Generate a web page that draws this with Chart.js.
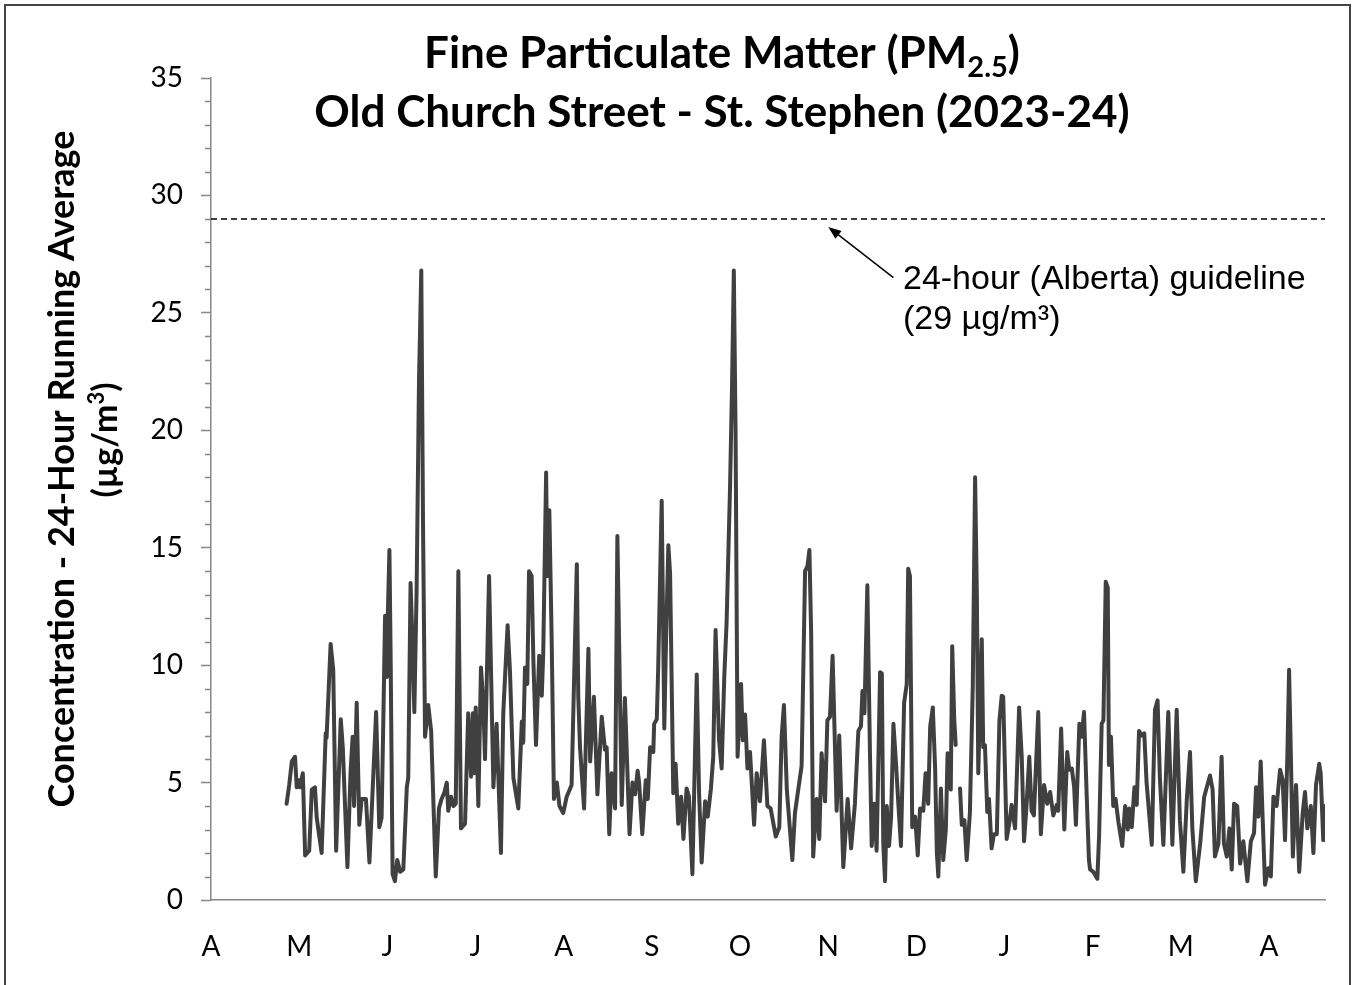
<!DOCTYPE html>
<html>
<head>
<meta charset="utf-8">
<script src="https://cdn.jsdelivr.net/npm/chart.js@4.4.1/dist/chart.umd.min.js"></script>
<style>
  html, body { margin: 0; padding: 0; background: #fff; }
  #wrap { position: relative; width: 1355px; height: 985px; overflow: hidden; }
  #frame { position: absolute; left: 4px; top: 4px; width: 1347px; height: 1000px; border: 2px solid #444; box-sizing: border-box; pointer-events: none; }
  canvas { position: absolute; left: 0; top: 0; }
</style>
</head>
<body>
<div id="wrap">
  <canvas id="pmChart" width="1355" height="985"></canvas>
  <div id="frame"></div>
</div>
<script>
// 月ラベル (2023年4月〜2024年4月)
const monthLabels = ['A', 'M', 'J', 'J', 'A', 'S', 'O', 'N', 'D', 'J', 'F', 'M', 'A'];
const monthDays = 30.44; // 平均的な1か月の日数
const xMax = 384.6;      // 2023-04-01 からの日数

// 24時間移動平均 (µg/m³) : 2023-04-01 からの経過日数
const days = [
  26.1,27.0,27.9,29.0,29.6,30.5,30.7,31.7,32.5,33.9,
  34.8,35.9,36.5,38.2,39.6,39.9,41.3,42.2,43.2,44.8,
  45.5,47.1,48.2,48.9,49.4,50.3,51.2,52.0,53.5,54.7,
  57.0,58.1,58.9,59.5,60.1,60.7,61.0,61.6,62.0,62.7,
  63.5,64.3,65.3,66.4,67.6,68.1,68.9,69.5,70.2,71.0,
  71.8,72.6,73.2,73.9,75.0,76.0,77.6,78.7,79.6,80.5,
  81.4,81.9,82.9,83.7,84.5,85.4,86.3,87.7,88.8,89.8,
  90.4,90.9,91.4,92.3,93.2,94.0,94.6,96.0,97.5,98.6,
  100.1,100.9,102.4,103.2,104.4,106.1,107.3,107.8,108.4,109.2,
  109.8,110.7,111.3,112.2,113.3,114.2,114.7,115.7,116.1,116.8,
  117.6,118.4,119.4,120.3,121.6,122.8,124.5,125.3,126.3,126.8,
  127.4,128.8,130.3,130.9,132.2,133.4,134.9,136.0,136.6,137.5,
  138.3,139.5,140.3,141.8,142.9,144.5,145.5,146.4,147.3,147.8,
  148.9,150.1,150.8,151.6,152.7,153.0,153.9,154.4,155.6,156.5,
  157.0,157.9,158.5,159.6,160.4,161.3,162.3,163.1,164.2,165.0,
  166.2,167.1,167.7,168.5,169.4,170.6,171.5,172.6,173.4,174.2,
  175.4,176.3,177.2,178.0,179.2,179.9,180.5,181.1,181.8,183.0,
  183.6,184.4,185.2,186.1,187.5,188.4,189.5,190.9,192.1,193.2,
  195.0,196.2,197.0,197.8,198.8,200.7,201.6,202.8,203.9,205.1,
  205.9,206.6,207.2,207.9,209.1,210.0,210.8,212.0,212.8,213.7,
  214.6,216.0,216.9,218.3,219.8,221.0,222.3,223.5,224.4,224.9,
  225.6,226.6,227.5,228.1,229.0,229.8,231.0,231.6,232.1,232.7,
  233.3,234.1,234.8,235.6,236.4,237.3,238.2,239.3,240.2,240.7,
  241.3,242.1,243.1,244.0,244.8,245.9,246.7,247.6,248.3,249.2,
  250.0,250.6,251.1,252.0,252.8,253.7,254.3,255.4,255.9,256.6,
  257.1,257.8,
  258.6,259.2,260.1,260.9,262.0,263.0,263.8,264.4,264.9,
  266.1,266.6,267.2,268.0,268.6,269.5,270.3,271.3,272.2,273.0,
  273.5,274.7,275.6,276.4,277.6,279.0,279.9,280.7,281.6,282.5,
  283.3,284.1,285.6,286.5,287.6,288.7,289.7,290.8,292.0,292.5,
  293.5,294.6,295.6,296.3,297.2,298.0,298.6,299.8,300.6,301.4,
  302.3,303.1,303.5,304.6,306.0,306.6,307.5,308.1,308.9,309.6,
  310.0,310.7,311.5,312.3,313.3,314.6,315.6,316.5,317.0,317.9,
  318.8,319.6,320.4,321.3,322.2,323.0,324.8,325.9,326.8,327.6,
  328.8,330.5,331.9,333.4,334.5,335.7,336.9,338.0,338.8,340.0,341.5,
  342.9,
  344.9,345.8,346.6,347.8,348.9,349.7,350.7,351.6,
  352.4,353.2,354.3,355.3,356.4,357.8,359.0,360.1,360.8,361.6,
  362.4,363.1,363.9,365.0,365.9,366.8,367.9,369.1,370.0,370.8,
  371.6,372.2,372.8,373.5,374.6,375.7,376.9,377.7,378.5,379.7,
  380.6,381.5,382.6,383.1,384.0,384.6
];
const pm25 = [
  4.1,4.9,5.9,6.1,4.8,5.1,4.8,5.4,1.9,2.1,
  4.7,4.8,3.5,2.0,7.1,6.9,10.9,9.8,2.1,7.7,
  6.5,1.4,5.5,6.95,4.0,8.4,3.2,4.3,4.3,1.6,
  8.0,3.1,3.5,7.7,12.1,9.5,11.9,14.9,10.6,1.1,
  0.8,1.7,1.2,1.3,4.8,5.2,13.5,11.2,8.0,13.3,
  22,26.8,16,6.95,8.3,7.2,1.0,3.9,4.3,4.55,
  5.0,3.8,4.4,4.0,4.1,14.0,3.05,3.25,7.95,5.25,
  7.95,5.4,8.2,4.0,9.9,8.4,6.0,13.8,4.8,7.5,
  2.0,7.95,11.7,9.8,5.2,3.9,7.6,6.7,9.9,9.2,
  14.0,13.8,10.2,6.6,10.4,8.7,10.5,18.2,13.8,16.6,
  11.2,4.3,5.0,4.0,3.7,4.4,4.9,9.1,14.3,8.65,
  6.5,3.9,10.7,5.9,8.65,4.5,7.8,6.4,6.5,2.8,
  5.4,3.9,15.5,4.05,8.6,2.8,5.0,4.5,5.5,5.0,
  2.8,5.1,4.3,6.5,6.3,7.5,7.7,9.9,17.0,7.3,
  10.5,15.1,13.9,4.55,5.8,3.25,4.4,2.6,4.75,4.4,
  1.1,6.25,9.6,4.55,1.6,4.2,3.55,4.75,6.1,11.5,
  6.8,5.6,9.5,11.8,17.6,22,26.8,20,6.1,9.2,
  6.8,7.9,5.6,6.3,3.2,5.4,4.2,6.8,4.0,3.9,
  2.7,3.1,6.95,8.3,4.7,1.7,3.7,4.75,5.7,14.0,
  14.2,14.9,11.35,1.85,4.3,2.6,6.25,4.2,7.65,7.8,
  10.4,3.8,7.0,1.4,4.3,2.2,4.1,7.2,7.4,8.9,
  7.95,13.4,6.25,2.3,4.1,2.1,9.7,9.65,2.4,0.8,
  4.0,2.3,3.55,7.5,6.0,4.1,2.3,8.4,9.2,14.1,
  13.8,3.1,3.55,1.9,3.9,3.8,5.4,4.1,7.4,8.2,
  5.6,2.0,1.0,4.75,1.7,3.0,6.25,4.7,10.8,7.7,
  6.6,null,
  4.75,3.2,3.4,1.7,3.7,9.1,18.0,13.05,5.4,
  11.1,6.5,6.6,3.75,4.3,2.2,2.8,2.8,7.65,8.7,
  8.65,2.6,3.25,4.05,3.05,8.2,6.1,2.5,4.1,6.1,
  3.8,3.6,8.0,2.8,4.9,4.1,4.6,3.6,4.05,3.8,
  7.3,3.0,6.3,5.55,5.6,4.8,3.2,7.5,6.95,8.0,
  4.55,1.7,1.3,1.2,0.9,2.7,7.5,7.65,13.55,13.3,
  5.75,6.95,4.0,4.3,3.3,2.3,4.0,3.0,3.9,3.1,
  4.8,4.05,7.2,7.0,7.1,5.0,2.35,8.1,8.5,5.2,
  2.35,8.0,2.35,8.1,3.4,1.2,4.3,6.3,3.05,0.8,2.4,
  4.4,
  5.3,4.7,1.85,2.4,6.1,2.4,1.85,3.05,
  1.3,4.1,4.0,1.55,2.5,0.8,2.5,2.85,4.8,3.55,
  5.9,3.4,0.65,1.35,1.0,4.4,4.0,5.55,5.1,2.55,
  6.1,9.8,6.25,1.85,4.9,1.2,3.7,4.6,3.05,4.0,
  2.0,4.9,5.8,5.4,2.55,4.0
];

// アルバータ州 24時間ガイドライン
const guidelineValue = 29;
// 矢印と注記 (データ座標)
const arrowTip = { x: 213.1, y: 28.66 };
const arrowTail = { x: 235.6, y: 26.5 };
const noteAnchor = { x: 238.9, y: 26.0 };
const noteLines = ['24-hour (Alberta) guideline', '(29 µg/m³)'];

const axisGray = '#878787';

// --- Y軸の補助目盛り (1 µg/m³ ごと) ---
const minorTicks = {
  id: 'minorTicks',
  afterDraw(chart) {
    const { ctx, scales: { y }, chartArea } = chart;
    ctx.save();
    ctx.strokeStyle = axisGray;
    ctx.lineWidth = 1.5;
    for (let v = 0; v <= 35; v++) {
      if (v % 5 === 0) continue;
      const py = Math.round(y.getPixelForValue(v)) + 0.5;
      ctx.beginPath();
      ctx.moveTo(chartArea.left - 6, py);
      ctx.lineTo(chartArea.left, py);
      ctx.stroke();
    }
    ctx.restore();
  }
};

// 下付き・上付きを含む1行を描く
function drawRich(ctx, parts, x, y, align) {
  let total = 0;
  parts.forEach(p => { ctx.font = p.font; p.w = ctx.measureText(p.text).width; total += p.w; });
  let sx = align === 'center' ? x - total / 2 : x;
  ctx.textAlign = 'left';
  parts.forEach(p => {
    ctx.font = p.font;
    ctx.fillText(p.text, sx, y + (p.dy || 0));
    sx += p.w;
  });
}

// --- タイトル、軸タイトル、注記を描く ---
const textLayer = {
  id: 'textLayer',
  afterDraw(chart) {
    const { ctx, scales: { x, y } } = chart;
    ctx.save();
    ctx.fillStyle = '#000';
    ctx.textBaseline = 'alphabetic';

    // タイトル
    const titleX = 722;
    const big = 'bold 44px Lato';
    drawRich(ctx, [
      { text: 'Fine Particulate Matter (PM', font: big },
      { text: '2.5', font: 'bold 29px Lato', dy: 9 },
      { text: ')', font: big }
    ], titleX, 68, 'center');
    ctx.font = big;
    ctx.textAlign = 'center';
    ctx.fillText('Old Church Street - St. Stephen (2023-24)', titleX, 127);

    // Y軸タイトル
    ctx.save();
    ctx.font = 'bold 36px Lato';
    ctx.textBaseline = 'middle';
    ctx.textAlign = 'center';
    ctx.translate(62, 469);
    ctx.rotate(-Math.PI / 2);
    ctx.fillText('Concentration - 24-Hour Running Average', 0, 0);
    ctx.restore();
    ctx.save();
    ctx.textBaseline = 'middle';
    ctx.translate(106, 440);
    ctx.rotate(-Math.PI / 2);
    drawRich(ctx, [
      { text: '(µg/m', font: 'bold 34px Lato' },
      { text: '3', font: 'bold 22px Lato', dy: -9 },
      { text: ')', font: 'bold 34px Lato' }
    ], 0, 0, 'center');
    ctx.restore();

    // 矢印
    const tx = x.getPixelForValue(arrowTip.x), ty = y.getPixelForValue(arrowTip.y);
    const fx = x.getPixelForValue(arrowTail.x), fy = y.getPixelForValue(arrowTail.y);
    const ang = Math.atan2(ty - fy, tx - fx);
    ctx.strokeStyle = '#000';
    ctx.lineWidth = 1.5;
    ctx.beginPath();
    ctx.moveTo(fx, fy);
    ctx.lineTo(tx - 8 * Math.cos(ang), ty - 8 * Math.sin(ang));
    ctx.stroke();
    ctx.beginPath();
    ctx.moveTo(tx, ty);
    ctx.lineTo(tx - 13 * Math.cos(ang) + 5 * Math.sin(ang), ty - 13 * Math.sin(ang) - 5 * Math.cos(ang));
    ctx.lineTo(tx - 13 * Math.cos(ang) - 5 * Math.sin(ang), ty - 13 * Math.sin(ang) + 5 * Math.cos(ang));
    ctx.closePath();
    ctx.fillStyle = '#000';
    ctx.fill();

    // 注記テキスト
    ctx.textBaseline = 'alphabetic';
    const noteFont = '34px "Liberation Sans", Arial, sans-serif';
    const nx = x.getPixelForValue(noteAnchor.x), ny = y.getPixelForValue(noteAnchor.y);
    ctx.font = noteFont;
    ctx.textAlign = 'left';
    ctx.fillText(noteLines[0], nx, ny);
    ctx.fillText(noteLines[1], nx, ny + 40);
    ctx.restore();
  }
};

const pmPoints = days.map((d, i) => ({ x: d, y: pm25[i] }));
const guidePoints = [{ x: 0, y: guidelineValue }, { x: xMax, y: guidelineValue }];

const ctx = document.getElementById('pmChart').getContext('2d');
new Chart(ctx, {
  type: 'line',
  data: {
    datasets: [
      {
        label: 'PM2.5',
        data: pmPoints,
        borderColor: '#404040',
        borderWidth: 4,
        pointRadius: 0,
        tension: 0,
        spanGaps: false,
        borderJoinStyle: 'round',
        borderCapStyle: 'round'
      },
      {
        label: 'Guideline',
        data: guidePoints,
        borderColor: '#000',
        borderWidth: 1.5,
        borderDash: [6, 4],
        pointRadius: 0
      }
    ]
  },
  options: {
    responsive: false,
    animation: false,
    layout: { padding: { top: 78, right: 30, left: 0, bottom: 0 } },
    plugins: { legend: { display: false }, tooltip: { enabled: false } },
    scales: {
      x: {
        type: 'linear',
        min: 0,
        max: xMax,
        afterBuildTicks(scale) {
          scale.ticks = monthLabels.map((m, i) => ({ value: i * monthDays }));
        },
        afterFit(scale) { scale.height = 85; },
        ticks: {
          autoSkip: false,
          maxRotation: 0,
          padding: 30,
          color: '#000',
          font: { family: 'Lato', size: 28 },
          callback: (v, i) => monthLabels[i]
        },
        grid: { drawOnChartArea: false, drawTicks: false },
        border: { color: axisGray, width: 1.5 }
      },
      y: {
        min: 0,
        max: 35,
        afterFit(scale) { scale.width = 211; },
        ticks: {
          stepSize: 5,
          padding: 18,
          color: '#000',
          font: { family: 'Lato', size: 28 }
        },
        grid: { drawOnChartArea: false, tickLength: 10, tickColor: axisGray, tickWidth: 1.5 },
        border: { color: axisGray, width: 1.5 }
      }
    }
  },
  plugins: [minorTicks, textLayer]
});
</script>
</body>
</html>
